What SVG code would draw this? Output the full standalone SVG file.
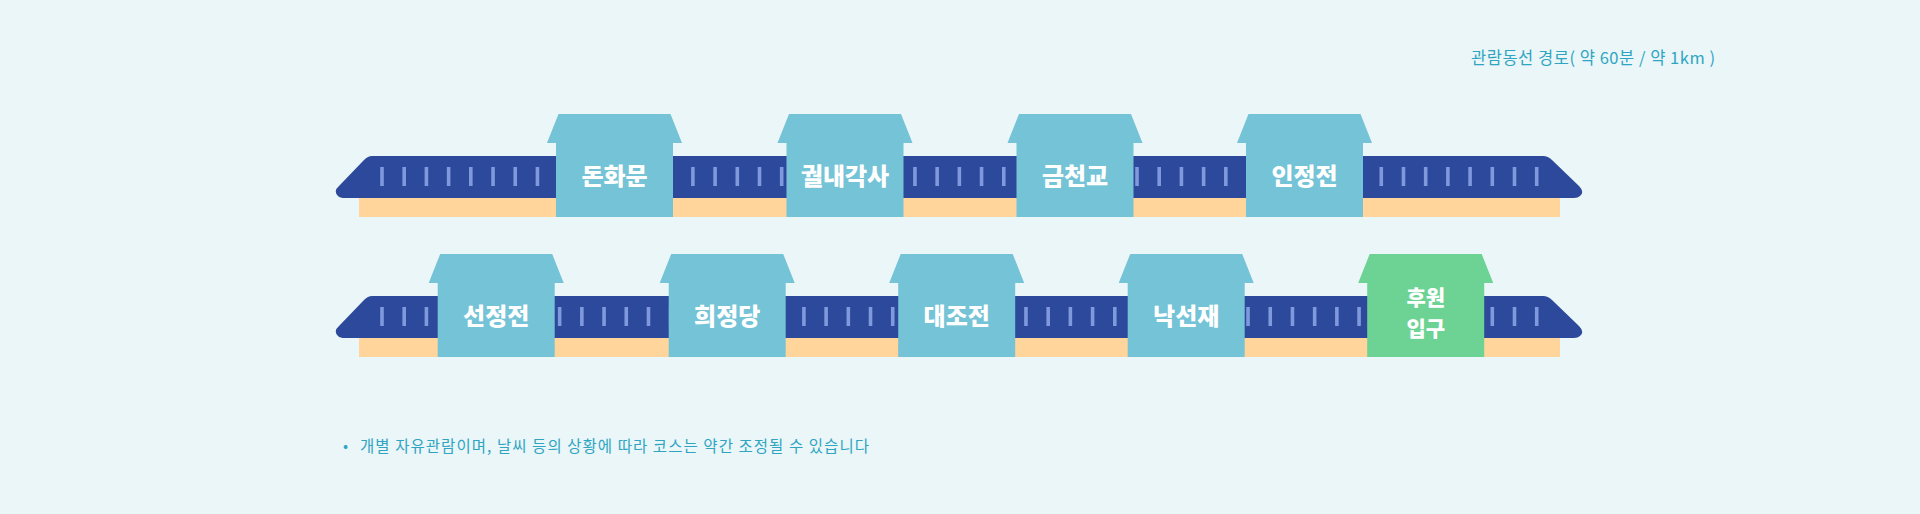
<svg xmlns="http://www.w3.org/2000/svg" xmlns:xlink="http://www.w3.org/1999/xlink" width="1920" height="514" viewBox="0 0 1920 514">
<style>
.bg{fill:#eaf6f8}
.body{fill:#2c499b}
.ticks{stroke:#7f99dc;stroke-width:19;stroke-dasharray:3.6 18.606;fill:none}
.base{fill:#ffd59c}
.label{font-family:"Noto Sans CJK KR","Noto Sans",sans-serif;font-weight:900;font-size:24px;fill:#ffffff;text-anchor:middle}
.label2{font-size:21px}
.info{font-family:"Noto Sans CJK KR","Noto Sans",sans-serif;font-weight:400;fill:#2fa5c2}
</style>
<defs>
<path id="house" d="M0,103 V29 H-9 L2.5,0 H114.5 L126,29 H117 V103 Z"/>
<path id="train" d="M372,0 H1543 Q1548,0 1552,4 L1579,30 Q1585,36 1580,40 Q1578,42 1574,42 H345 Q340,42 338,40 Q333,35 339,30 L364,4 Q368,0 372,0 Z"/>
</defs>
<rect class="bg" x="0" y="0" width="1920" height="514"/>

<g id="connectors">
  <g id="track-1">
    <rect class="base" x="359" y="196" width="1201" height="21"/>
    <use xlink:href="#train" href="#train" class="body" transform="translate(0,156)"/>
    <line class="ticks" x1="380.2" y1="176.5" x2="1540" y2="176.5"/>
  </g>
  <g id="track-2">
    <rect class="base" x="359" y="336" width="1201" height="21"/>
    <use xlink:href="#train" href="#train" class="body" transform="translate(0,296)"/>
    <line class="ticks" x1="380.2" y1="316.5" x2="1540" y2="316.5"/>
  </g>
</g>

<g id="node-donhwamun">
  <use xlink:href="#house" href="#house" fill="#75c3d6" transform="translate(556,114)"/>
  <text class="label" x="614.5" y="185">돈화문</text>
</g>
<g id="node-gwollaegaksa">
  <use xlink:href="#house" href="#house" fill="#75c3d6" transform="translate(786.5,114)"/>
  <text class="label" x="845" y="185">궐내각사</text>
</g>
<g id="node-geumcheongyo">
  <use xlink:href="#house" href="#house" fill="#75c3d6" transform="translate(1016.5,114)"/>
  <text class="label" x="1075" y="185">금천교</text>
</g>
<g id="node-injeongjeon">
  <use xlink:href="#house" href="#house" fill="#75c3d6" transform="translate(1246,114)"/>
  <text class="label" x="1304.5" y="185">인정전</text>
</g>

<g id="node-seonjeongjeon">
  <use xlink:href="#house" href="#house" fill="#75c3d6" transform="translate(437.7,254)"/>
  <text class="label" x="496.2" y="325">선정전</text>
</g>
<g id="node-huijeongdang">
  <use xlink:href="#house" href="#house" fill="#75c3d6" transform="translate(668.7,254)"/>
  <text class="label" x="727.2" y="325">희정당</text>
</g>
<g id="node-daejojeon">
  <use xlink:href="#house" href="#house" fill="#75c3d6" transform="translate(898.2,254)"/>
  <text class="label" x="956.7" y="325">대조전</text>
</g>
<g id="node-nakseonjae">
  <use xlink:href="#house" href="#house" fill="#75c3d6" transform="translate(1127.7,254)"/>
  <text class="label" x="1186.2" y="325">낙선재</text>
</g>
<g id="node-huwon-entrance">
  <use xlink:href="#house" href="#house" fill="#6cd394" transform="translate(1367.2,254)"/>
  <text class="label label2" x="1425.7" y="304.5">후원</text>
  <text class="label label2" x="1425.7" y="335.5">입구</text>
</g>

<g id="notes">
  <text class="info" x="1471" y="64" font-size="16.5" textLength="244">관람동선 경로( 약 60분 / 약 1km )</text>
  <text class="info" x="343" y="451" font-size="15">•</text>
  <text class="info" x="360" y="452" font-size="15.5" textLength="509">개별 자유관람이며, 날씨 등의 상황에 따라 코스는 약간 조정될 수 있습니다</text>
</g>
</svg>
